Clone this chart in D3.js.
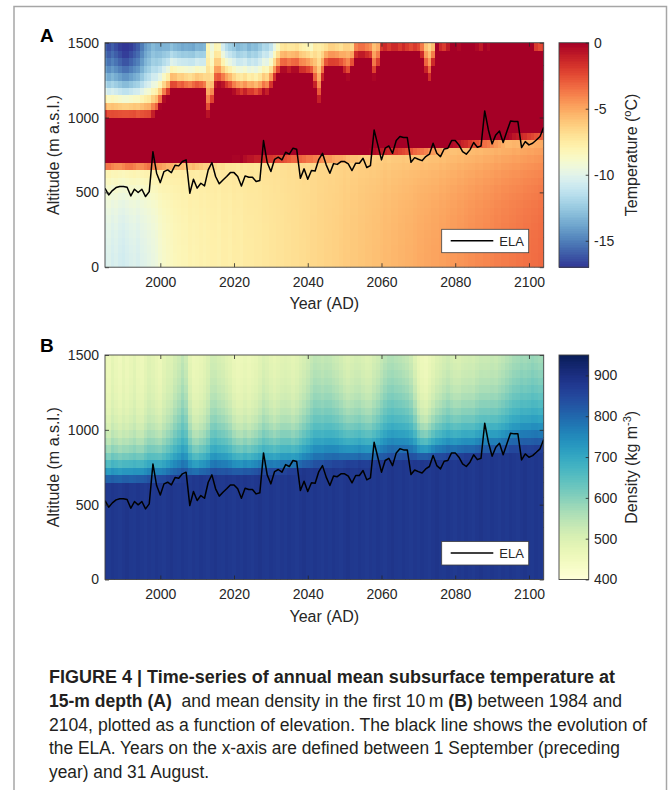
<!DOCTYPE html>
<html lang="en">
<head>
<meta charset="utf-8">
<title>Figure 4 - subsurface temperature and density</title>
<script src="https://cdn.jsdelivr.net/npm/d3@7/dist/d3.min.js"></script>
<style>
  body { margin: 0; background: #fff; }
  svg text { font-family: "Liberation Sans", Arial, Helvetica, sans-serif; fill: #262626; }
  .cap text { fill: #231f20; white-space: pre; }
</style>
</head>
<body>
<svg id="fig" width="669" height="790"></svg>
<script>
// ---- data, one value per year 1985..2104 ----
var years = d3.range(1985, 2105);
var altBins = d3.range(0, 1500, 50);     // lower edge of each 50 m altitude bin
var xTicks = [2000, 2020, 2040, 2060, 2080, 2100];
var yTicks = [0, 500, 1000, 1500];
var tempTicks = [-15, -10, -5, 0];
var densTicks = [400, 500, 600, 700, 800, 900];

// equilibrium line altitude (m)
var ela = [527,483,512,532,539,539,534,476,521,499,
  521,472,505,772,628,565,639,650,632,681,
  677,706,717,494,588,528,561,543,650,699,
  606,557,583,606,632,632,606,543,610,601,
  601,572,579,846,699,639,721,735,717,768,
  755,795,788,594,657,588,646,643,721,761,
  684,628,692,687,706,706,690,646,695,695,
  728,666,679,917,817,717,795,810,761,846,
  873,866,866,701,732,721,712,739,755,828,
  761,739,790,795,846,846,817,772,755,784,
  833,801,810,1044,917,824,884,910,833,906,
  977,973,973,799,839,817,828,850,873,935];

// temperate (0 degC) zone: lower and upper limit (m)
var redLow = [698,698,700,702,702,700,698,698,700,702,
  702,700,698,702,704,706,708,710,710,712,
  714,714,716,714,712,714,716,718,718,720,
  720,722,722,724,724,726,726,724,728,730,
  730,732,732,736,738,738,740,742,742,744,
  746,748,748,748,750,752,752,754,756,758,
  760,760,762,764,764,766,768,770,770,772,
  774,774,776,778,780,782,784,786,788,790,
  792,794,796,798,802,804,806,808,812,814,
  816,818,822,824,828,830,832,836,838,842,
  846,848,852,856,858,862,866,868,872,876,
  878,882,884,888,890,894,896,900,902,904];
var redHigh = [1006,995,995,995,995,995,995,995,995,990,
  990,990,990,1010,1030,1073,1120,1151,1195,1195,
  1185,1190,1180,1175,1185,1190,1185,1175,1010,1080,
  1210,1220,1215,1200,1190,1170,1160,1150,1160,1150,
  1150,1140,1150,1170,1160,1200,1250,1290,1320,1320,
  1310,1320,1320,1300,1300,1290,1280,1200,1100,1250,
  1330,1340,1340,1340,1330,1300,1270,1330,1400,1410,
  1410,1400,1390,1270,1330,1440,1450,1440,1450,1450,
  1440,1450,1440,1430,1440,1430,1400,1300,1240,1350,
  1480,1450,1440,1460,1520,1520,1470,1480,1520,1520,
  1520,1470,1460,1480,1470,1520,1520,1520,1520,1520,
  1520,1520,1520,1520,1520,1520,1500,1440,1430,1440];
// temperature just below the temperate zone, at the bed of the plot, and cold limit above it (degC)
var tSub = [-7.9,-7.8,-8.0,-7.9,-8.0,-8.1,-8.0,-7.9,-7.8,-7.9,
  -7.8,-7.7,-7.7,-7.6,-7.6,-7.5,-7.5,-7.6,-7.5,-7.5,
  -7.5,-7.4,-7.5,-7.4,-7.4,-7.5,-7.4,-7.4,-7.3,-7.4,
  -7.3,-7.4,-7.3,-7.3,-7.3,-7.2,-7.3,-7.2,-7.2,-7.1,
  -7.1,-7.2,-7.1,-7.0,-7.0,-7.0,-6.9,-7.0,-6.9,-6.9,
  -6.8,-6.9,-6.8,-6.8,-6.7,-6.8,-6.7,-6.7,-6.6,-6.6,
  -6.6,-6.5,-6.6,-6.5,-6.5,-6.4,-6.5,-6.4,-6.4,-6.3,
  -6.3,-6.3,-6.2,-6.3,-6.2,-6.2,-6.1,-6.2,-6.1,-6.1,
  -6.1,-6.0,-6.1,-6.0,-6.0,-6.0,-5.9,-6.0,-5.9,-5.9,
  -5.9,-5.8,-5.9,-5.8,-5.8,-5.8,-5.7,-5.8,-5.7,-5.7,
  -5.7,-5.6,-5.7,-5.6,-5.6,-5.6,-5.5,-5.6,-5.5,-5.5,
  -5.5,-5.4,-5.5,-5.4,-5.4,-5.3,-5.4,-5.3,-5.3,-5.2];
var tDeep = [-10.6,-10.4,-10.7,-10.5,-10.8,-10.9,-10.7,-10.5,-10.4,-10.6,
  -10.3,-10.2,-10.0,-9.8,-9.6,-9.2,-8.9,-8.7,-8.6,-8.4,
  -8.3,-8.2,-8.2,-8.0,-8.1,-8.0,-7.9,-8.0,-7.9,-7.8,
  -7.8,-7.9,-7.7,-7.7,-7.8,-7.6,-7.6,-7.7,-7.5,-7.5,
  -7.5,-7.4,-7.4,-7.3,-7.3,-7.2,-7.2,-7.1,-7.1,-7.0,
  -7.0,-6.9,-6.9,-6.8,-6.8,-6.7,-6.6,-6.6,-6.5,-6.5,
  -6.4,-6.4,-6.3,-6.3,-6.2,-6.1,-6.1,-6.0,-6.0,-5.9,
  -5.9,-5.8,-5.8,-5.7,-5.7,-5.6,-5.5,-5.5,-5.4,-5.4,
  -5.3,-5.3,-5.2,-5.2,-5.1,-5.0,-5.0,-4.9,-4.9,-4.8,
  -4.8,-4.7,-4.7,-4.6,-4.5,-4.5,-4.4,-4.4,-4.3,-4.2,
  -4.2,-4.1,-4.1,-4.0,-4.0,-3.9,-3.8,-3.8,-3.7,-3.7,
  -3.6,-3.6,-3.5,-3.5,-3.4,-3.4,-3.3,-3.3,-3.2,-3.2];
var tCold = [-17.5,-18,-17.5,-18,-18.5,-19,-19,-18.5,-18,-17.5,
  -16.5,-15.5,-15,-14.5,-15,-15.5,-16,-16.5,-17,-17.5,
  -17.5,-18,-17.5,-17.5,-18,-17.5,-17.5,-17,-9,-11,
  -11,-11.5,-14.5,-15.5,-16,-16,-16.5,-16,-16,-16.5,
  -16,-16,-15.5,-15,-15,-15,-14.5,-14,-13.5,-13,
  -13,-13.5,-13,-13,-13.5,-13.5,-14,-10,-9,-11,
  -13.5,-13,-13,-13.5,-13.5,-11,-10,-13,-12.5,-12.5,
  -12.5,-12.5,-12.5,-9,-10,-12,-12,-12,-12,-12,
  -12,-12,-12,-12,-12,-12,-12,-10,-9.5,-12,
  -12,-12,-12,-12,-12,-12,-12,-12,-12,-12,
  -12,-12,-12,-12,-12,-12,-12,-12,-12,-12,
  -12,-12,-12,-12,-12,-12,-12,-12,-12,-12];

// density: top of the dense layer (m), decay length (m), surface value and deep value (kg m-3)
var dEdge = [640,642,640,638,640,642,640,638,640,642,
  644,646,648,650,654,658,660,662,664,666,
  668,670,672,674,676,678,680,682,684,686,
  686,688,688,690,690,692,692,694,694,696,
  698,698,700,702,704,706,708,710,712,714,
  716,718,720,722,724,726,728,732,736,740,
  744,748,752,756,758,760,762,764,764,766,
  766,768,768,770,772,774,776,778,780,782,
  784,786,788,790,790,792,794,796,798,800,
  802,804,806,808,810,812,814,816,818,820,
  822,824,826,828,830,832,834,836,838,842,
  846,848,850,852,854,856,858,860,862,865];
var dScale = [190,180,190,195,190,180,190,195,190,190,
  195,205,205,210,205,205,210,220,245,275,
  305,335,320,245,205,195,205,210,230,275,
  290,275,270,260,245,220,205,195,205,195,
  205,210,220,240,230,220,210,220,225,220,
  220,210,220,230,245,270,290,305,310,305,
  305,310,295,290,275,255,245,240,245,255,
  245,240,230,245,260,290,320,335,340,335,
  335,325,320,305,260,205,180,175,190,205,
  220,230,245,255,245,240,245,255,245,240,
  245,255,260,270,260,255,260,270,275,290,
  310,325,335,340,335,340,350,340,335,340];
var dTop = [465,455,475,460,450,470,455,465,480,460,
  455,470,485,475,465,455,475,485,480,490,
  495,505,490,465,455,460,465,475,485,495,
  490,485,480,470,465,455,450,455,460,455,
  460,465,475,485,480,470,465,470,475,480,
  475,470,475,485,490,495,505,510,505,500,
  505,500,495,490,485,480,475,485,490,485,
  480,475,480,490,495,500,505,510,510,505,
  500,495,490,480,465,455,450,445,455,465,
  475,480,485,490,485,480,475,480,485,490,
  485,490,495,490,495,500,495,500,505,510,
  510,515,515,520,515,520,525,520,515,520];
var dDeep = [882,878,884,880,876,882,886,880,878,884,
  880,876,882,878,884,880,876,882,886,880,
  878,884,880,876,882,878,884,880,876,882,
  886,880,878,884,880,876,882,878,884,880,
  876,882,886,880,878,884,880,876,882,878,
  884,880,876,882,886,880,878,884,880,876,
  882,878,884,880,876,882,886,880,878,884,
  880,876,882,878,884,880,876,882,886,880,
  878,884,880,876,882,878,884,880,876,882,
  886,880,878,884,880,876,882,878,884,880,
  876,882,886,880,878,884,880,876,882,878,
  884,880,876,882,886,880,878,884,880,876];

// ---- profiles built from the per-year values ----
function tempAt(i, a) {
    if (a > redHigh[i]) return tCold[i] * (1 - Math.exp(-(a - redHigh[i]) / 200));
    if (a >= redLow[i]) return 0;
    var d = redLow[i] - a;
    if (d < 50) return tSub[i] * d / 50;
    return tDeep[i] + (tSub[i] - tDeep[i]) * Math.exp(-(d - 50) / 250);
}
function densAt(i, a) {
    if (a <= dEdge[i]) return dDeep[i];
    return dTop[i] + (dDeep[i] - dTop[i]) * Math.exp(-(a - dEdge[i]) / dScale[i]);
}

var svg = d3.select("#fig");
var ink = "#262626";

// page frame
svg.append("rect").attr("x", 14).attr("y", 6.5).attr("width", 652.5).attr("height", 800)
    .attr("fill", "#fff").attr("stroke", "#a6a6a6").attr("stroke-width", 1.5);

var x = d3.scaleLinear().domain([1985, 2104]).range([105, 543.7]);
var cbX = 559, cbW = 29.7;

function drawPanel(p) {
    var y = d3.scaleLinear().domain([0, 1500]).range([p.bottom, p.top]);
    var g = svg.append("g");

    svg.append("clipPath").attr("id", "clip" + p.name).append("rect")
        .attr("x", x.range()[0]).attr("y", p.top)
        .attr("width", x.range()[1] - x.range()[0]).attr("height", p.bottom - p.top);

    var cells = [];
    years.forEach(function (yr, i) {
        altBins.forEach(function (a) {
            cells.push({ yr: yr, a: a, v: p.field(i, a + 25) });
        });
    });

    var plot = g.append("g").attr("clip-path", "url(#clip" + p.name + ")");
    plot.selectAll("rect").data(cells).join("rect")
        .attr("x", function (d) { return x(d.yr - 0.5); })
        .attr("width", function (d) { return x(d.yr + 0.5) - x(d.yr - 0.5) + 0.4; })
        .attr("y", function (d) { return y(d.a + 50); })
        .attr("height", function (d) { return y(d.a) - y(d.a + 50) + 0.4; })
        .attr("fill", function (d) { return p.color(d.v); })
        .attr("shape-rendering", "crispEdges");

    var line = d3.line()
        .x(function (d, i) { return x(years[i]); })
        .y(function (d) { return y(d); });
    plot.append("path").datum(ela).attr("d", line)
        .attr("fill", "none").attr("stroke", "#000").attr("stroke-width", 1.5)
        .attr("stroke-linejoin", "round");

    // axes, MATLAB style: box with inward ticks on all sides
    function style(ax) {
        ax.attr("color", ink).attr("font-size", 14)
          .attr("font-family", "'Liberation Sans', Arial, sans-serif");
        ax.select(".domain").remove();
        ax.selectAll(".tick line").attr("stroke-width", 0.8);
    }
    g.append("g").attr("transform", "translate(0," + p.bottom + ")")
        .call(d3.axisBottom(x).tickValues(xTicks).tickSize(-4).tickPadding(10).tickFormat(d3.format("d")))
        .call(style);
    g.append("g").attr("transform", "translate(0," + p.top + ")")
        .call(d3.axisTop(x).tickValues(xTicks).tickSize(-4).tickFormat(""))
        .call(style);
    g.append("g").attr("transform", "translate(" + x.range()[0] + ",0)")
        .call(d3.axisLeft(y).tickValues(yTicks).tickSize(-4).tickPadding(6).tickFormat(d3.format("d")))
        .call(style);
    g.append("g").attr("transform", "translate(" + x.range()[1] + ",0)")
        .call(d3.axisRight(y).tickValues(yTicks).tickSize(-4).tickFormat(""))
        .call(style);
    g.append("rect").attr("x", x.range()[0]).attr("y", p.top)
        .attr("width", x.range()[1] - x.range()[0]).attr("height", p.bottom - p.top)
        .attr("fill", "none").attr("stroke", "#404040").attr("stroke-width", 0.9);

    // titles
    g.append("text").attr("x", 40).attr("y", p.labelY)
        .attr("font-size", 19).attr("font-weight", "bold").style("fill", "#000").text(p.name);
    g.append("text").attr("x", (x.range()[0] + x.range()[1]) / 2).attr("y", p.bottom + 42)
        .attr("text-anchor", "middle").attr("font-size", 16).text("Year (AD)");
    g.append("text")
        .attr("transform", "translate(59," + (p.top + p.bottom) / 2 + ") rotate(-90)")
        .attr("text-anchor", "middle").attr("font-size", 16).text("Altitude (m a.s.l.)");

    // legend
    var lx = x.range()[1] - 15 - 87, ly = p.bottom - 14.5 - 23.4;
    g.append("rect").attr("x", lx).attr("y", ly).attr("width", 87).attr("height", 23.4)
        .attr("fill", "#fff").attr("stroke", "#404040").attr("stroke-width", 0.8);
    g.append("line").attr("x1", lx + 9).attr("x2", lx + 51.6)
        .attr("y1", ly + 11.5).attr("y2", ly + 11.5)
        .attr("stroke", "#000").attr("stroke-width", 1.5);
    g.append("text").attr("x", lx + 57.6).attr("y", ly + 16.2)
        .attr("font-size", 13).text("ELA");

    // colour bar
    var c0 = p.cdomain[0], c1 = p.cdomain[1], n = 128;
    var cy = d3.scaleLinear().domain(p.cdomain).range([p.bottom, p.top]);
    var cb = g.append("g");
    cb.selectAll("rect").data(d3.range(n)).join("rect")
        .attr("x", cbX).attr("width", cbW)
        .attr("y", function (s) { return cy(c0 + (s + 1) * (c1 - c0) / n); })
        .attr("height", function (s) { return cy(c0 + s * (c1 - c0) / n) - cy(c0 + (s + 1) * (c1 - c0) / n) + 0.4; })
        .attr("fill", function (s) { return p.color(c0 + (s + 0.5) * (c1 - c0) / n); })
        .attr("shape-rendering", "crispEdges");
    cb.append("rect").attr("x", cbX).attr("y", p.top).attr("width", cbW).attr("height", p.bottom - p.top)
        .attr("fill", "none").attr("stroke", "#404040").attr("stroke-width", 0.9);
    g.append("g").attr("transform", "translate(" + (cbX + cbW) + ",0)")
        .call(d3.axisRight(cy).tickValues(p.cticks).tickSize(-3).tickPadding(5.3)
            .tickFormat(function (d) { return String(d); }))
        .call(style);

    var cl = g.append("text")
        .attr("transform", "translate(637," + (p.top + p.bottom) / 2 + ") rotate(-90)")
        .attr("text-anchor", "middle").attr("font-size", 16);
    p.clabel(cl);
}

drawPanel({
    name: "A", top: 42.7, bottom: 267.2, labelY: 42,
    field: tempAt,
    color: d3.scaleSequential(d3.interpolateRdYlBu).domain([0, -17]).clamp(true),
    cdomain: [-17, 0], cticks: tempTicks,
    clabel: function (t) {
        t.append("tspan").text("Temperature (");
        t.append("tspan").attr("font-size", 11).attr("dy", -6).text("o");
        t.append("tspan").attr("dy", 6).text("C)");
    }
});
drawPanel({
    name: "B", top: 355, bottom: 579.5, labelY: 352,
    field: densAt,
    color: d3.scaleSequential(d3.interpolateYlGnBu).domain([400, 950]).clamp(true),
    cdomain: [400, 950], cticks: densTicks,
    clabel: function (t) {
        t.append("tspan").text("Density (kg m");
        t.append("tspan").attr("font-size", 11).attr("dy", -6).text("-3");
        t.append("tspan").attr("dy", 6).text(")");
    }
});

// caption
var capLines = [
    [["FIGURE 4 | Time-series of annual mean subsurface temperature at", true]],
    [["15-m depth (A)", true], ["  and mean density in the first 10\u2009m ", false], ["(B)", true], [" between 1984 and", false]],
    [["2104, plotted as a function of elevation. The black line shows the evolution of", false]],
    [["the ELA. Years on the x-axis are defined between 1 September (preceding", false]],
    [["year) and 31 August.", false]]
];
var capY = [683, 707, 731, 754, 778];
var capEnd = [615, 622, 647, 620];   // right end of the full lines
var cap = svg.append("g").attr("class", "cap");
var capText = cap.selectAll("text").data(capLines).join("text")
    .attr("x", 49).attr("y", function (d, i) { return capY[i]; })
    .attr("font-size", 17.5);
capText.selectAll("tspan").data(function (d) { return d; }).join("tspan")
    .attr("font-weight", function (d) { return d[1] ? "bold" : "normal"; })
    .text(function (d) { return d[0]; });
var nat = capText.nodes().map(function (n) { return n.getComputedTextLength(); });
var sx = (capEnd[3] - 49) / nat[3];
capText.each(function (d, i) {
    var w = i < capEnd.length ? capEnd[i] - 49 : nat[i] * sx;
    d3.select(this).attr("textLength", w).attr("lengthAdjust", "spacingAndGlyphs");
});
</script>
</body>
</html>
